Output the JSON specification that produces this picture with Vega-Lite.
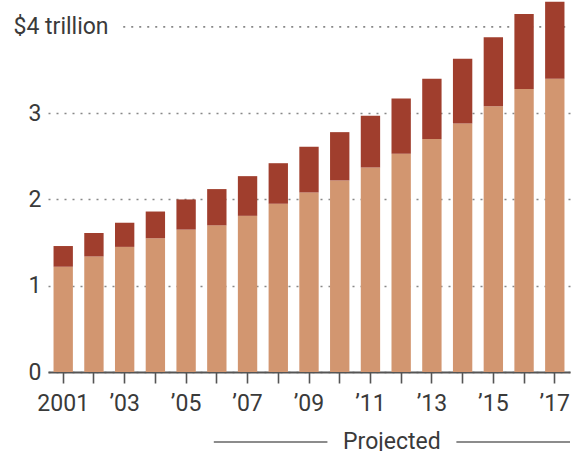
{
  "$schema": "https://vega.github.io/schema/vega-lite/v6.json",
  "width": 522,
  "height": 371,
  "autosize": "none",
  "padding": {"left": 48, "top": 1, "right": 3, "bottom": 79},
  "background": "white",
  "config": {"view": {"stroke": null}, "font": "Roboto"},
  "layer": [
    {
      "data": {"values": [{}]},
      "mark": {"type": "rule", "color": "#888", "strokeWidth": 1.6, "strokeDash": [2, 6]},
      "encoding": {
        "x": {"datum": 2002.95, "type": "quantitative", "scale": {"domain": [2000.5, 2017.5], "nice": false, "zero": false}, "axis": null},
        "x2": {"datum": 2017.5},
        "y": {"datum": 4, "type": "quantitative", "scale": {"domain": [0, 4.3], "nice": false}}
      }
    },
    {
      "data": {"values": [
        {"year": 2001, "seg": "lower", "value": 1.22}, {"year": 2001, "seg": "upper", "value": 0.24},
        {"year": 2002, "seg": "lower", "value": 1.34}, {"year": 2002, "seg": "upper", "value": 0.27},
        {"year": 2003, "seg": "lower", "value": 1.45}, {"year": 2003, "seg": "upper", "value": 0.28},
        {"year": 2004, "seg": "lower", "value": 1.55}, {"year": 2004, "seg": "upper", "value": 0.31},
        {"year": 2005, "seg": "lower", "value": 1.65}, {"year": 2005, "seg": "upper", "value": 0.35},
        {"year": 2006, "seg": "lower", "value": 1.70}, {"year": 2006, "seg": "upper", "value": 0.42},
        {"year": 2007, "seg": "lower", "value": 1.81}, {"year": 2007, "seg": "upper", "value": 0.46},
        {"year": 2008, "seg": "lower", "value": 1.95}, {"year": 2008, "seg": "upper", "value": 0.47},
        {"year": 2009, "seg": "lower", "value": 2.08}, {"year": 2009, "seg": "upper", "value": 0.53},
        {"year": 2010, "seg": "lower", "value": 2.22}, {"year": 2010, "seg": "upper", "value": 0.56},
        {"year": 2011, "seg": "lower", "value": 2.37}, {"year": 2011, "seg": "upper", "value": 0.60},
        {"year": 2012, "seg": "lower", "value": 2.53}, {"year": 2012, "seg": "upper", "value": 0.64},
        {"year": 2013, "seg": "lower", "value": 2.70}, {"year": 2013, "seg": "upper", "value": 0.70},
        {"year": 2014, "seg": "lower", "value": 2.88}, {"year": 2014, "seg": "upper", "value": 0.75},
        {"year": 2015, "seg": "lower", "value": 3.08}, {"year": 2015, "seg": "upper", "value": 0.80},
        {"year": 2016, "seg": "lower", "value": 3.28}, {"year": 2016, "seg": "upper", "value": 0.87},
        {"year": 2017, "seg": "lower", "value": 3.40}, {"year": 2017, "seg": "upper", "value": 0.89}
      ]},
      "mark": {"type": "bar"},
      "encoding": {
        "x": {
          "field": "year", "type": "ordinal",
          "scale": {"paddingInner": 0.37, "paddingOuter": 0.18},
          "axis": {
            "title": null,
            "labelAngle": 0,
            "labelExpr": "datum.value == 2001 ? '2001' : (datum.value % 2 == 1 ? '\u2019' + substring(datum.label, 2, 4) : '')",
            "labelFont": "Roboto",
            "labelFontSize": 23,
            "labelColor": "#3a3a3a",
            "labelPadding": 9,
            "domainColor": "#555",
            "domainWidth": 2,
            "tickColor": "#555",
            "tickWidth": 1.6,
            "tickSize": 11,
            "grid": false
          }
        },
        "y": {
          "field": "value", "type": "quantitative", "stack": "zero",
          "scale": {"domain": [0, 4.3], "nice": false},
          "axis": {
            "title": null,
            "values": [0, 1, 2, 3, 4],
            "domain": false,
            "ticks": false,
            "tickSize": 0,
            "labelFont": "Roboto",
            "labelFontSize": 23,
            "labelColor": "#3a3a3a",
            "labelExpr": "datum.value == 4 ? '$4 trillion' : format(datum.value, 'd')",
            "labelAlign": {"condition": {"test": "datum.value == 4", "value": "left"}, "value": "right"},
            "labelPadding": {"condition": {"test": "datum.value == 4", "value": 35}, "value": 7},
            "grid": true,
            "gridColor": "#888",
            "gridWidth": 1.6,
            "gridDash": [2, 6],
            "gridOpacity": {"condition": {"test": "datum.value == 4", "value": 0}, "value": 1}
          }
        },
        "color": {
          "field": "seg", "type": "nominal",
          "scale": {"domain": ["lower", "upper"], "range": ["#D29670", "#A03E2D"]},
          "legend": null
        },
        "order": {"field": "seg", "sort": "ascending"}
      }
    },
    {
      "data": {"values": [
        {"part": "left", "from": 2005.9, "to": 2009.6},
        {"part": "right", "from": 2013.8, "to": 2017.5}
      ]},
      "mark": {"type": "rule", "color": "#8c8c8c", "strokeWidth": 2},
      "encoding": {
        "x": {"field": "from", "type": "quantitative", "scale": {"domain": [2000.5, 2017.5], "nice": false, "zero": false}, "axis": null},
        "x2": {"field": "to"},
        "y": {"datum": -0.81, "type": "quantitative", "scale": {"domain": [0, 4.3], "nice": false}}
      }
    },
    {
      "data": {"values": [{"label": "Projected", "at": 2011.7}]},
      "mark": {"type": "text", "font": "Roboto", "fontSize": 23, "color": "#3a3a3a", "align": "center", "baseline": "middle"},
      "encoding": {
        "x": {"field": "at", "type": "quantitative", "scale": {"domain": [2000.5, 2017.5], "nice": false, "zero": false}, "axis": null},
        "y": {"datum": -0.81, "type": "quantitative", "scale": {"domain": [0, 4.3], "nice": false}},
        "text": {"field": "label"}
      }
    }
  ],
  "resolve": {"scale": {"x": "independent"}, "axis": {"x": "independent"}}
}
